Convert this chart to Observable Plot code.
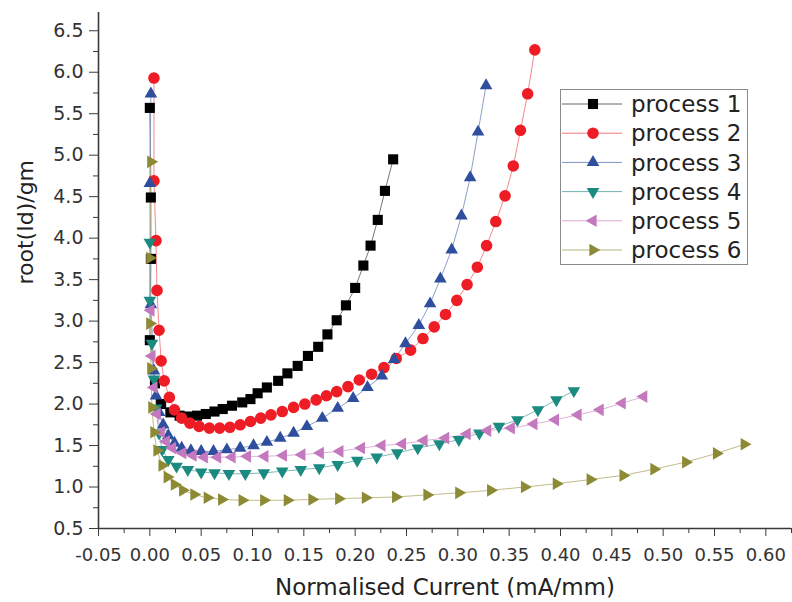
<!DOCTYPE html>
<html>
<head>
<meta charset="utf-8">
<script src="https://cdn.jsdelivr.net/npm/d3@7"></script>
<script src="https://cdn.jsdelivr.net/npm/@observablehq/plot@0.6"></script>
<style>
  html, body { margin: 0; padding: 0; background: #fff; }
  #wrap { position: relative; width: 792px; height: 602px; }
  #legend { position: absolute; left: 560px; top: 89px; }
</style>
</head>
<body>
<div id="wrap"></div>
<script>
// ---- data ----
const seriesNames = ["process 1", "process 2", "process 3", "process 4", "process 5", "process 6"];
const seriesColors = ["#000000", "#ee1c25", "#2f4f9e", "#1b8a80", "#c478bd", "#8c8a34"];
const lineColors = ["#666666", "#f27a80", "#7f93c4", "#6fb3ad", "#dba8d6", "#b8b67a"];

const process1 = [[0.000,5.57],[0.001,4.49],[0.001,3.75],[0.000,2.77],[0.005,2.25],[0.011,2.00],[0.020,1.90],[0.029,1.86],
  [0.038,1.85],[0.046,1.86],[0.0545,1.88],[0.063,1.91],[0.071,1.94],[0.080,1.98],[0.090,2.02],[0.098,2.06],
  [0.105,2.13],[0.114,2.20],[0.125,2.28],[0.134,2.37],[0.144,2.46],[0.154,2.58],[0.164,2.69],[0.173,2.84],
  [0.182,3.01],[0.191,3.19],[0.200,3.40],[0.208,3.67],[0.215,3.91],[0.222,4.22],[0.229,4.57],[0.237,4.95]];

const process2 = [[0.004,5.93],[0.004,4.69],[0.006,3.97],[0.007,3.37],[0.009,2.89],[0.011,2.52],[0.014,2.28],
  [0.019,2.08],[0.024,1.93],[0.031,1.83],[0.039,1.77],[0.048,1.73],[0.058,1.71],[0.068,1.71],[0.078,1.72],
  [0.088,1.75],[0.098,1.79],[0.108,1.83],[0.118,1.87],[0.129,1.91],[0.140,1.96],[0.151,2.00],[0.162,2.05],
  [0.172,2.10],[0.182,2.15],[0.193,2.21],[0.204,2.29],[0.216,2.36],[0.228,2.44],[0.240,2.55],[0.254,2.65],
  [0.266,2.79],[0.277,2.93],[0.288,3.08],[0.299,3.25],[0.309,3.44],[0.319,3.65],[0.328,3.91],[0.337,4.20],
  [0.346,4.51],[0.354,4.87],[0.361,5.30],[0.368,5.74],[0.375,6.27]];

const process3 = [[0.001,5.74],[0.000,4.66],[0.001,3.20],[0.004,2.40],[0.006,2.10],[0.009,1.90],[0.013,1.75],
  [0.018,1.62],[0.024,1.53],[0.031,1.47],[0.040,1.44],[0.050,1.43],[0.062,1.43],[0.075,1.45],[0.088,1.47],
  [0.101,1.50],[0.114,1.54],[0.127,1.59],[0.140,1.65],[0.153,1.73],[0.168,1.83],[0.183,1.95],[0.198,2.07],
  [0.212,2.20],[0.226,2.34],[0.238,2.54],[0.249,2.73],[0.262,2.95],[0.273,3.21],[0.283,3.51],[0.294,3.86],
  [0.3035,4.27],[0.312,4.73],[0.3197,5.28],[0.3275,5.84]];

const process4 = [[0.000,3.95],[0.000,3.25],[0.002,2.73],[0.004,2.30],[0.006,1.95],[0.009,1.65],[0.012,1.45],
  [0.018,1.33],[0.026,1.25],[0.037,1.21],[0.050,1.18],[0.063,1.17],[0.077,1.16],[0.093,1.16],[0.111,1.17],
  [0.129,1.19],[0.147,1.21],[0.165,1.23],[0.183,1.27],[0.202,1.32],[0.221,1.36],[0.241,1.41],[0.261,1.47],
  [0.282,1.52],[0.301,1.57],[0.321,1.65],[0.340,1.73],[0.358,1.81],[0.378,1.93],[0.396,2.05],[0.413,2.16]];

const process5 = [[0.001,3.13],[0.002,2.58],[0.004,2.20],[0.007,1.88],[0.011,1.66],[0.016,1.55],[0.022,1.47],
  [0.032,1.41],[0.042,1.38],[0.053,1.36],[0.066,1.36],[0.080,1.36],[0.095,1.37],[0.112,1.37],[0.130,1.38],
  [0.148,1.39],[0.166,1.41],[0.185,1.43],[0.206,1.47],[0.226,1.50],[0.246,1.52],[0.267,1.56],[0.288,1.59],
  [0.309,1.64],[0.329,1.68],[0.352,1.71],[0.374,1.76],[0.395,1.81],[0.417,1.87],[0.4385,1.93],[0.460,2.01],
  [0.481,2.09]];

const process6 = [[0.001,4.92],[0.000,3.76],[0.000,2.97],[0.001,2.43],[0.002,1.96],[0.004,1.66],[0.007,1.44],
  [0.012,1.26],[0.017,1.12],[0.024,1.03],[0.032,0.96],[0.043,0.91],[0.056,0.87],[0.070,0.85],[0.090,0.84],
  [0.111,0.84],[0.134,0.84],[0.158,0.85],[0.184,0.86],[0.210,0.87],[0.2395,0.88],[0.270,0.905],[0.301,0.93],
  [0.332,0.96],[0.365,1.00],[0.396,1.04],[0.429,1.09],[0.461,1.14],[0.491,1.215],[0.522,1.30],[0.552,1.405],
  [0.579,1.515]];

const xTicks = [-0.05, 0.00, 0.05, 0.10, 0.15, 0.20, 0.25, 0.30, 0.35, 0.40, 0.45, 0.50, 0.55, 0.60];
const xMinorTicks = [-0.025, 0.025, 0.075, 0.125, 0.175, 0.225, 0.275, 0.325, 0.375, 0.425, 0.475, 0.525, 0.575, 0.625];
const yTicks = [0.5, 1.0, 1.5, 2.0, 2.5, 3.0, 3.5, 4.0, 4.5, 5.0, 5.5, 6.0, 6.5];
const yMinorTicks = [0.75, 1.25, 1.75, 2.25, 2.75, 3.25, 3.75, 4.25, 4.75, 5.25, 5.75, 6.25];
const xLabel = "Normalised Current (mA/mm)";
const yLabel = "root(Id)/gm";

// ---- symbols ----
function triangle(angleDeg) {
  const a = angleDeg * Math.PI / 180;
  return {
    draw(ctx, size) {
      const R = Math.sqrt(size / Math.PI) * 1.35;
      for (let k = 0; k < 3; k++) {
        const t = a + k * 2 * Math.PI / 3;
        const px = R * Math.sin(t), py = -R * Math.cos(t);
        if (k === 0) ctx.moveTo(px, py); else ctx.lineTo(px, py);
      }
      ctx.closePath();
    }
  };
}
const square = { draw(ctx, size) { const s = Math.sqrt(size) / 2; ctx.rect(-s, -s, 2 * s, 2 * s); } };
const circle = { draw(ctx, size) { const r = Math.sqrt(size / Math.PI); ctx.moveTo(r, 0); ctx.arc(0, 0, r, 0, 2 * Math.PI); } };
const symbols = [square, circle, triangle(0), triangle(180), triangle(270), triangle(90)];
const radii = [5.7, 5.8, 5.4, 5.4, 5.4, 5.4];

const allSeries = [process1, process2, process3, process4, process5, process6];
const rows = allSeries.map((s, i) => s.map(([x, y]) => ({ x, y, name: seriesNames[i] })));

const marks = [];
rows.forEach((data, i) => {
  marks.push(Plot.line(data, { x: "x", y: "y", stroke: lineColors[i], strokeWidth: 0.9 }));
});
rows.forEach((data, i) => {
  marks.push(Plot.dot(data, { x: "x", y: "y", symbol: symbols[i], r: radii[i], fill: seriesColors[i], stroke: "none" }));
});

const axisColor = "#3a3a3a";
const chart = Plot.plot({
  width: 792,
  height: 602,
  marginLeft: 98,
  marginRight: 1,
  marginTop: 12,
  marginBottom: 74,
  x: { domain: [-0.05, 0.625], label: null },
  y: { domain: [0.5, 6.72], label: null },
  style: { fontFamily: "DejaVu Sans", fontSize: "17px", color: "#333", background: "white", overflow: "visible" },
  marks: [
    Plot.axisX(xMinorTicks, { tickSize: 5, tickFormat: () => "", stroke: axisColor, label: null }),
    Plot.axisX(xTicks, { tickSize: 8, tickPadding: 12, tickFormat: d => d.toFixed(2), fontSize: 18, stroke: axisColor, fill: "#333", label: null }),
    Plot.axisY(yMinorTicks, { tickSize: 5, tickFormat: () => "", stroke: axisColor, label: null }),
    Plot.axisY(yTicks, { tickSize: 9, tickPadding: 6, tickFormat: d => d.toFixed(1), fontSize: 19, stroke: axisColor, fill: "#333", label: null }),
    Plot.ruleX([-0.05], { stroke: axisColor, strokeWidth: 1.6 }),
    Plot.ruleY([0.5], { stroke: axisColor, strokeWidth: 1.6 }),
    ...marks,
    Plot.text([xLabel], { frameAnchor: "bottom", dy: 66, fontSize: 23, fill: "#222", text: d => d }),
    Plot.text([yLabel], { frameAnchor: "left", dx: -73, dy: 14, rotate: -90, fontSize: 22, fill: "#222", text: d => d })
  ]
});

const wrap = document.getElementById("wrap");
wrap.appendChild(chart);

// ---- legend ----
const lw = 188, lh = 176;
const leg = d3.select(wrap).append("svg").attr("id", "legend").attr("width", lw).attr("height", lh);
leg.append("rect").attr("x", 0.5).attr("y", 0.5).attr("width", lw - 1).attr("height", lh - 1)
  .attr("fill", "white").attr("stroke", "#8a8a8a").attr("stroke-width", 1);
seriesNames.forEach((name, i) => {
  const cy = 15 + i * 29.2;
  const g = leg.append("g");
  g.append("line").attr("x1", 2).attr("x2", 62).attr("y1", cy).attr("y2", cy)
    .attr("stroke", lineColors[i]).attr("stroke-width", 1);
  g.append("path").attr("transform", `translate(33,${cy})`)
    .attr("d", d3.symbol(symbols[i], Math.PI * radii[i] * radii[i])())
    .attr("fill", seriesColors[i]);
  g.append("text").attr("x", 71).attr("y", cy).attr("dy", "0.36em")
    .attr("font-family", "DejaVu Sans").attr("font-size", 23).attr("fill", "#222").text(name);
});
</script>
</body>
</html>
